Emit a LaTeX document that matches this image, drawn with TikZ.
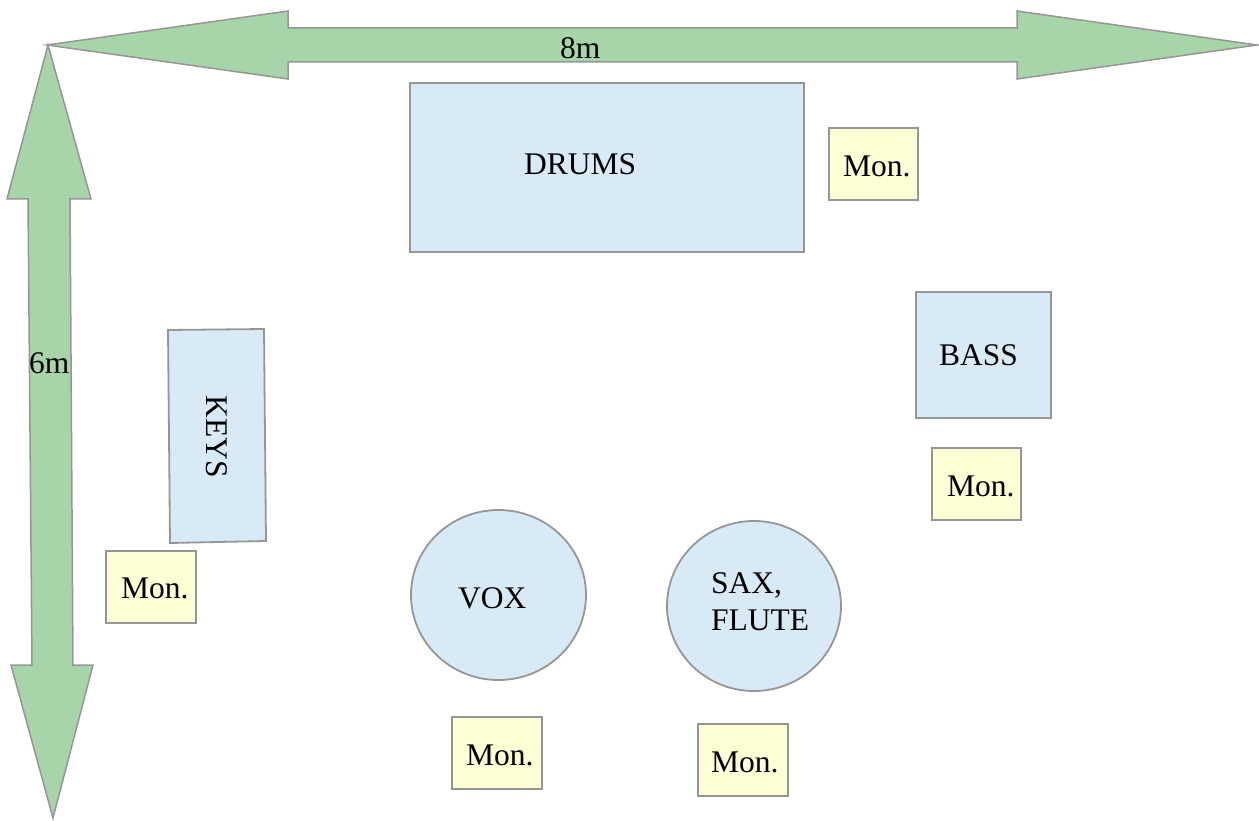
\documentclass[tikz,border=0pt]{standalone}
\usepackage{fontspec}
\setmainfont{Liberation Serif}
\usetikzlibrary{shapes.geometric}
\definecolor{arrowgreen}{RGB}{168,212,169}
\definecolor{boxblue}{RGB}{216,234,246}
\definecolor{monyellow}{RGB}{255,255,214}
\definecolor{edgegray}{RGB}{150,150,150}
\tikzset{
  dimarrow/.style={draw=edgegray, fill=arrowgreen, line width=1.5pt, line join=miter},
  instbox/.style={draw=edgegray, fill=boxblue, line width=1.8pt, rectangle, inner sep=0pt},
  instcircle/.style={draw=edgegray, fill=boxblue, line width=1.8pt, ellipse, inner sep=0pt},
  monbox/.style={draw=edgegray, fill=monyellow, line width=1.8pt, rectangle, inner sep=0pt},
  lbl/.style={anchor=base west, inner sep=0pt, font=\fontsize{31.5}{37}\selectfont},
}
\begin{document}
\begin{tikzpicture}[x=1pt,y=-1pt]
\useasboundingbox (0,0) rectangle (1259,821);
% dimension arrows
\draw[dimarrow] (47,45) -- (288,11) -- (288,28) -- (1017,28) -- (1017,11) -- (1257,45)
  -- (1017,79) -- (1017,62) -- (288,62) -- (288,79) -- cycle;
\draw[dimarrow] (48,45) -- (91,199) -- (70,199) -- (73,665) -- (93,665) -- (53,818)
  -- (11,665) -- (32,665) -- (28,199) -- (7,199) -- cycle;
\node[lbl] (w) at (560,59) {8m};
\node[lbl] (h) at (29,373) {6m};
% drums
\node[instbox, minimum width=394pt, minimum height=169pt] (drums) at (607,167.5) {};
\node[lbl] (drumst) at (524,175) {DRUMS};
\node[monbox, minimum width=89pt, minimum height=72pt] (mon1) at (873.5,164) {};
\node[lbl] (mon1t) at (843,177) {Mon.};
% bass
\node[instbox, minimum width=135pt, minimum height=126pt] (bass) at (983.5,355) {};
\node[lbl] (basst) at (939,365) {BASS};
\node[monbox, minimum width=89pt, minimum height=72pt] (mon2) at (976.5,484) {};
\node[lbl] (mon2t) at (947,496) {Mon.};
% keys
\draw[draw=edgegray, fill=boxblue, line width=1.8pt] (168,330) -- (264,329) -- (266,541) -- (170,543) -- cycle;
\node[anchor=center, inner sep=0pt, rotate=-90, font=\fontsize{31.5}{37}\selectfont] (keyst) at (217,437) {KEYS};
\node[monbox, minimum width=90pt, minimum height=72pt] (mon3) at (151,587) {};
\node[lbl] (mon3t) at (121,598) {Mon.};
% vox
\node[instcircle, minimum width=175pt, minimum height=170pt] (vox) at (498.5,595) {};
\node[lbl] (voxt) at (458,608) {VOX};
\node[monbox, minimum width=90pt, minimum height=72pt] (mon4) at (497,753) {};
\node[lbl] (mon4t) at (466,765) {Mon.};
% sax
\node[instcircle, minimum width=174pt, minimum height=170pt] (sax) at (754,606) {};
\node[lbl] (saxt) at (711,593) {SAX,};
\node[lbl] (flutet) at (711,630) {FLUTE};
\node[monbox, minimum width=90pt, minimum height=72pt] (mon5) at (743,760) {};
\node[lbl] (mon5t) at (711,772) {Mon.};
\end{tikzpicture}
\end{document}
